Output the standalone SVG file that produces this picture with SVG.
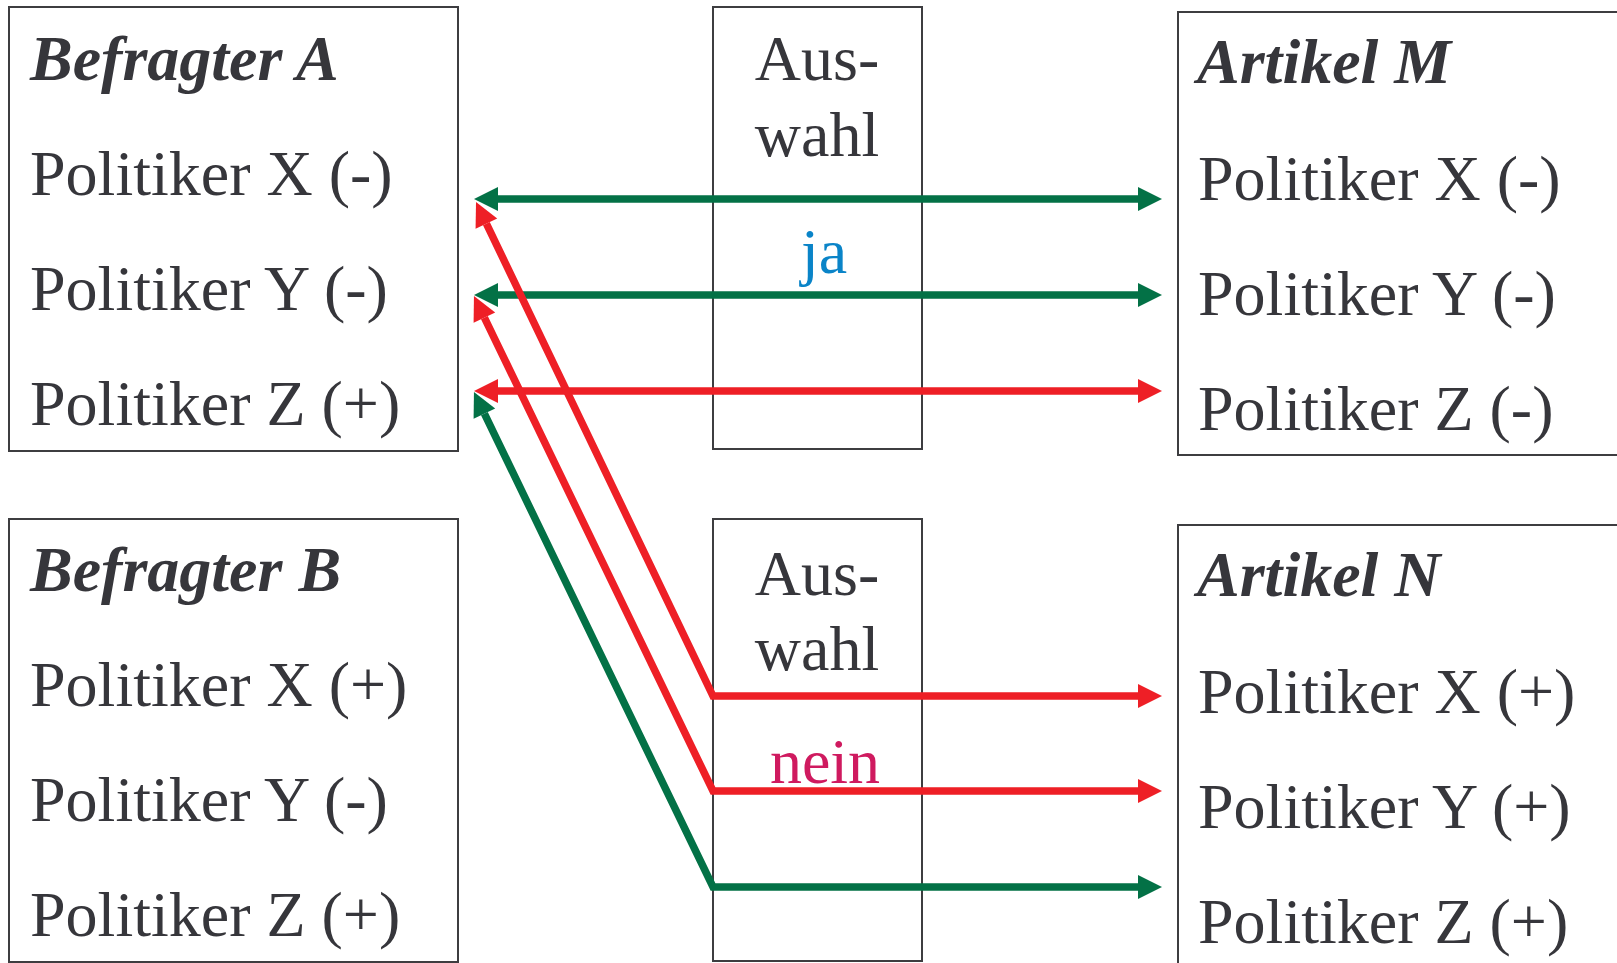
<svg xmlns="http://www.w3.org/2000/svg" width="1617" height="963" viewBox="0 0 1617 963">
<style>
.box{fill:#fff;stroke:#3d3d40;stroke-width:2}
.t{font-family:"Liberation Serif","Times New Roman",serif;font-size:64px;fill:#36363b}
.h{font-weight:bold;font-style:italic}
.c{text-anchor:middle}
.ln{fill:none;stroke-width:7.5;stroke-linejoin:miter;stroke-miterlimit:10}
.g{stroke:#037146}
.r{stroke:#ee1f26}
</style>
<defs>
<marker id="ag" markerUnits="userSpaceOnUse" markerWidth="24" markerHeight="24" refX="0" refY="12" orient="auto-start-reverse" overflow="visible"><path d="M0,0 L24,12 L0,24 z" fill="#037146"/></marker>
<marker id="ar" markerUnits="userSpaceOnUse" markerWidth="24" markerHeight="24" refX="0" refY="12" orient="auto-start-reverse" overflow="visible"><path d="M0,0 L24,12 L0,24 z" fill="#ee1f26"/></marker>
</defs>
<g id="befragterA">
<rect class="box" x="9" y="7" width="449" height="444"/>
<text class="t h" x="30" y="80">Befragter A</text>
<text class="t" x="30" y="195">Politiker X (-)</text>
<text class="t" x="30" y="310">Politiker Y (-)</text>
<text class="t" x="30" y="425">Politiker Z (+)</text>
</g>
<g id="befragterB">
<rect class="box" x="9" y="519" width="449" height="443"/>
<text class="t h" x="30" y="591">Befragter B</text>
<text class="t" x="30" y="706">Politiker X (+)</text>
<text class="t" x="30" y="821">Politiker Y (-)</text>
<text class="t" x="30" y="936">Politiker Z (+)</text>
</g>
<g id="auswahl1">
<rect class="box" x="713" y="7" width="209" height="442"/>
<text class="t c" x="817" y="80">Aus-</text>
<text class="t c" x="817" y="156">wahl</text>
</g>
<g id="auswahl2">
<rect class="box" x="713" y="519" width="209" height="442"/>
<text class="t c" x="817" y="595">Aus-</text>
<text class="t c" x="817" y="670">wahl</text>
</g>
<g id="artikelM">
<rect class="box" x="1178" y="12" width="460" height="443"/>
<text class="t h" x="1197" y="83">Artikel M</text>
<text class="t" x="1198" y="200">Politiker X (-)</text>
<text class="t" x="1198" y="315">Politiker Y (-)</text>
<text class="t" x="1198" y="430">Politiker Z (-)</text>
</g>
<g id="artikelN">
<rect class="box" x="1178" y="525" width="460" height="460"/>
<text class="t h" x="1197" y="596">Artikel N</text>
<text class="t" x="1198" y="713">Politiker X (+)</text>
<text class="t" x="1198" y="828">Politiker Y (+)</text>
<text class="t" x="1198" y="943">Politiker Z (+)</text>
</g>
<g id="connectors">
<path class="ln g" d="M498,199 L1138,199" marker-start="url(#ag)" marker-end="url(#ag)"/>
<path class="ln g" d="M498,295 L1138,295" marker-start="url(#ag)" marker-end="url(#ag)"/>
<path class="ln r" d="M498,391 L1138,391" marker-start="url(#ar)" marker-end="url(#ar)"/>
<path class="ln r" d="M486.4,223.6 L713,696 L1138,696" marker-start="url(#ar)" marker-end="url(#ar)"/>
<path class="ln r" d="M484.4,317.6 L713,791 L1138,791" marker-start="url(#ar)" marker-end="url(#ar)"/>
<path class="ln g" d="M484.4,413.6 L713,887 L1138,887" marker-start="url(#ag)" marker-end="url(#ag)"/>
<text class="t c" x="824" y="273" style="fill:#0a84c8">ja</text>
<text class="t c" x="825" y="783" style="fill:#cf1a5f">nein</text>
</g>
</svg>
